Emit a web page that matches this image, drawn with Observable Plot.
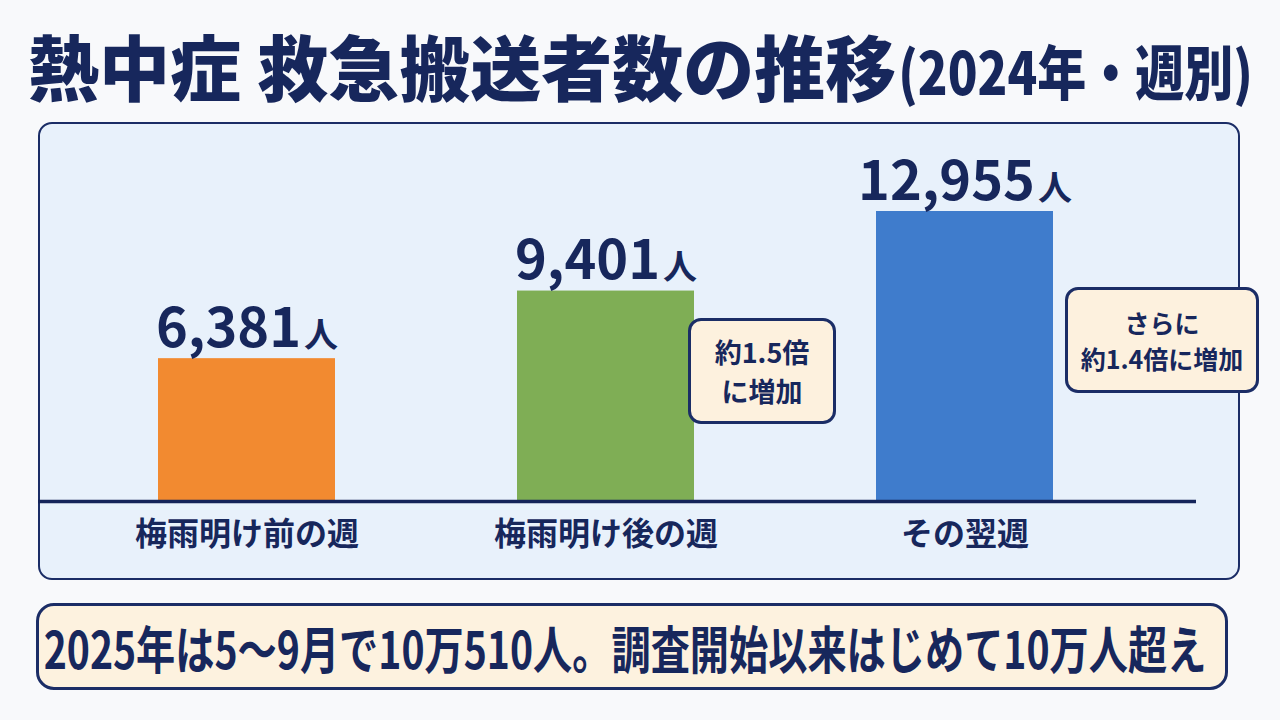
<!DOCTYPE html>
<html><head><meta charset="utf-8">
<script src="https://cdn.jsdelivr.net/npm/d3@7"></script>
<script src="https://cdn.jsdelivr.net/npm/@observablehq/plot@0.6"></script>
<style>
html,body{margin:0;padding:0;}
body{width:1280px;height:720px;background:#f8f9fb;position:relative;overflow:hidden;font-family:"Noto Sans CJK JP","Noto Sans",sans-serif;color:#17275c;}
#title{position:absolute;left:28px;top:14px;white-space:nowrap;font-weight:900;font-size:71px;line-height:100px;letter-spacing:0px;}
#title .sub{font-size:49px;display:inline-block;transform:scaleY(1.2);transform-origin:50% 70%;margin-left:2px;}
#panel{position:absolute;left:38px;top:122px;width:1198px;height:454px;background:#e8f1fb;border:2.5px solid #1b2d66;border-radius:14px;}
#chart{position:absolute;left:0;top:122px;}
.callout{position:absolute;background:#fdf1de;border:3px solid #1b2d66;border-radius:13px;box-sizing:border-box;display:flex;flex-direction:column;align-items:center;justify-content:center;font-weight:700;color:#17275c;}
#note{position:absolute;left:36px;top:603px;width:1192px;height:87px;box-sizing:border-box;background:#fdf2df;border:3px solid #1b2d66;border-radius:18px;display:flex;align-items:center;justify-content:center;font-weight:700;font-size:39.2px;white-space:nowrap;}
#note span{display:inline-block;transform:scaleY(1.3);margin-right:14px;}
</style></head>
<body>
<div id="title">熱中症 救急搬送者数の推移<span class="sub">(2024年・週別)</span></div>
<div id="panel"></div>
<div id="chart"></div>
<div class="callout" id="c1" style="left:688px;top:318px;width:148px;height:106px;font-size:27px;line-height:39px;"></div>
<div class="callout" id="c2" style="left:1065px;top:287px;width:194px;height:106px;font-size:25px;line-height:36px;"></div>
<div id="note"><span></span></div>
<script>
const categories = ["梅雨明け前の週", "梅雨明け後の週", "その翌週"];
const values = [6381, 9401, 12955];
const colors = ["#f28a30", "#7fae55", "#3f7ccc"];
const unit = "人";
const callout1 = ["約1.5倍", "に増加"];
const callout2 = ["さらに", "約1.4倍に増加"];
const noteText = "2025年は5～9月で10万510人。調査開始以来はじめて10万人超え";

const data = categories.map((c, i) => ({category: c, value: values[i], color: colors[i], label: d3.format(",")(values[i]) + unit}));

const navy = "#17275c";
const chart = Plot.plot({
  width: 1280,
  height: 458,
  marginTop: 89,
  marginBottom: 79,
  marginLeft: 38,
  marginRight: 84,
  style: {background: "transparent", fontFamily: '"Noto Sans CJK JP", sans-serif', fontSize: "32px", fontWeight: 700, color: navy},
  x: {domain: categories, range: [121.6, 1088.6], paddingInner: 0.507, paddingOuter: 0.1, label: null, tickSize: 0, tickPadding: 21},
  y: {domain: [0, 12955], axis: null},
  marks: [
    Plot.barY(data, {x: "category", y: "value", fill: "color"}),
    Plot.ruleY([0], {stroke: "#14245a", strokeWidth: 3.5}),
    Plot.text(data, {x: "category", y: "value", text: "label", lineAnchor: "bottom", dy: -12, fontSize: 54, fontWeight: 700, fill: navy})
  ]
});
document.getElementById("chart").appendChild(chart);

// style value labels: smaller unit character
d3.select(chart).selectAll('g[aria-label="text"] text').each(function() {
  const t = this.textContent;
  const num = t.slice(0, -unit.length);
  this.textContent = "";
  d3.select(this).append("tspan").text(num);
  d3.select(this).append("tspan").attr("font-size", 34).attr("dx", 3).text(unit);
});

function fill(id, lines) {
  const el = document.getElementById(id);
  lines.forEach(l => { const d = document.createElement("div"); d.textContent = l; el.appendChild(d); });
}
fill("c1", callout1);
fill("c2", callout2);
document.querySelector("#note span").textContent = noteText;
</script>
</body></html>
